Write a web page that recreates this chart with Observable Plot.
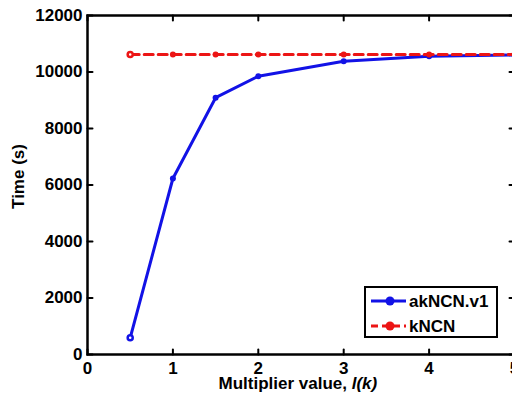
<!DOCTYPE html>
<html>
<head>
<meta charset="utf-8">
<script src="https://cdn.jsdelivr.net/npm/d3@7"></script>
<script src="https://cdn.jsdelivr.net/npm/@observablehq/plot@0.6"></script>
<style>
  html, body { margin: 0; padding: 0; background: white; overflow: hidden; }
  #wrap { position: relative; width: 512px; height: 400px; overflow: hidden; font-family: "Liberation Sans", Arial, sans-serif; font-weight: bold; }
  .lab { position: absolute; font-size: 17px; color: black; white-space: nowrap; line-height: 17px; }
  #legend { position: absolute; left: 364px; top: 286px; width: 130px; height: 48px; border: 2px solid black; background: white; }
</style>
</head>
<body>
<div id="wrap"></div>
<script>
// ---- data ----
const multipliers = [0.5, 1, 1.5, 2, 3, 4, 5];
const akNCNv1 = [590, 6230, 9090, 9850, 10380, 10560, 10600];
const kNCN = [10620, 10620, 10620, 10620, 10620, 10620, 10620];
const seriesNames = ["akNCN.v1", "kNCN"];
const seriesColors = ["#1212e6", "#ec1515"];
const xTicks = [0, 1, 2, 3, 4, 5];
const yTicks = [0, 2000, 4000, 6000, 8000, 10000, 12000];
const xLabel = "Multiplier value, ";
const xLabelItalic = "l(k)";
const yLabel = "Time (s)";

const blueData = multipliers.map((x, i) => ({x, y: akNCNv1[i], i}));
const redData = multipliers.map((x, i) => ({x, y: kNCN[i], i}));

const tickShape = {draw(context, l) { context.moveTo(0, 0); context.lineTo(0, -l); }};
const tickOpts = {length: 5, anchor: "start", shape: tickShape, stroke: "black", strokeWidth: 2};

const chart = Plot.plot({
  width: 514,
  height: 400,
  marginLeft: 87,
  marginRight: 0,
  marginTop: 15,
  marginBottom: 46,
  x: {domain: [0, 5]},
  y: {domain: [0, 12000]},
  style: {fontFamily: "'Liberation Sans', Arial, sans-serif", fontSize: "17px", fontWeight: "bold", color: "black", background: "white", maxWidth: "none"},
  marks: [
    Plot.axisX(xTicks, {tickSize: 0, tickPadding: 7, label: null, tickFormat: d => String(d)}),
    Plot.axisY(yTicks, {tickSize: 0, tickPadding: 5, label: null, tickFormat: d => String(d)}),
    Plot.line(blueData, {x: "x", y: "y", stroke: seriesColors[0], strokeWidth: 3}),
    Plot.dot(blueData, {x: "x", y: "y", r: d => d.i === 0 ? 3.2 : 4.5, fill: d => d.i === 0 ? "white" : seriesColors[0], stroke: seriesColors[0], strokeWidth: d => d.i === 0 ? 2.5 : 0}),
    Plot.line(redData, {x: "x", y: "y", stroke: seriesColors[1], strokeWidth: 3, strokeDasharray: "9,5"}),
    Plot.dot(redData, {x: "x", y: "y", r: d => d.i === 0 ? 3.2 : 4.5, fill: d => d.i === 0 ? "white" : seriesColors[1], stroke: seriesColors[1], strokeWidth: d => d.i === 0 ? 2.5 : 0}),
    Plot.frame({stroke: "black", strokeWidth: 2.5}),
    Plot.vector(xTicks, {x: d => d, frameAnchor: "bottom", rotate: 0, ...tickOpts}),
    Plot.vector(xTicks, {x: d => d, frameAnchor: "top", rotate: 180, ...tickOpts}),
    Plot.vector(yTicks, {y: d => d, frameAnchor: "left", rotate: 90, ...tickOpts}),
    Plot.vector(yTicks, {y: d => d, frameAnchor: "right", rotate: -90, ...tickOpts})
  ]
});

const wrap = document.getElementById("wrap");
wrap.appendChild(chart);

// axis titles
const xl = document.createElement("div");
xl.className = "lab";
xl.innerHTML = xLabel + "<i>" + xLabelItalic + "</i>";
wrap.appendChild(xl);
xl.style.left = (298 - xl.offsetWidth / 2) + "px";
xl.style.top = "375px";

const yl = document.createElement("div");
yl.className = "lab";
yl.textContent = yLabel;
wrap.appendChild(yl);
const w = yl.offsetWidth, h = yl.offsetHeight;
yl.style.left = (18 - w / 2) + "px";
yl.style.top = (176 - h / 2) + "px";
yl.style.transform = "rotate(-90deg)";

// legend
const legend = document.createElement("div");
legend.id = "legend";
const rows = seriesNames.map((name, i) => {
  const dash = i === 1 ? 'stroke-dasharray="7,4"' : '';
  return `<div style="position:absolute;left:0;top:${i === 0 ? 3 : 28}px;height:20px;width:130px;">
    <svg width="40" height="20" style="position:absolute;left:5px;top:0">
      <line x1="0" x2="35" y1="10" y2="10" stroke="${seriesColors[i]}" stroke-width="3" ${dash}/>
      <circle cx="19" cy="10" r="4.5" fill="${seriesColors[i]}"/>
    </svg>
    <span class="lab" style="left:43px;top:2px;">${name}</span>
  </div>`;
});
legend.innerHTML = rows.join("");
wrap.appendChild(legend);
</script>
</body>
</html>
